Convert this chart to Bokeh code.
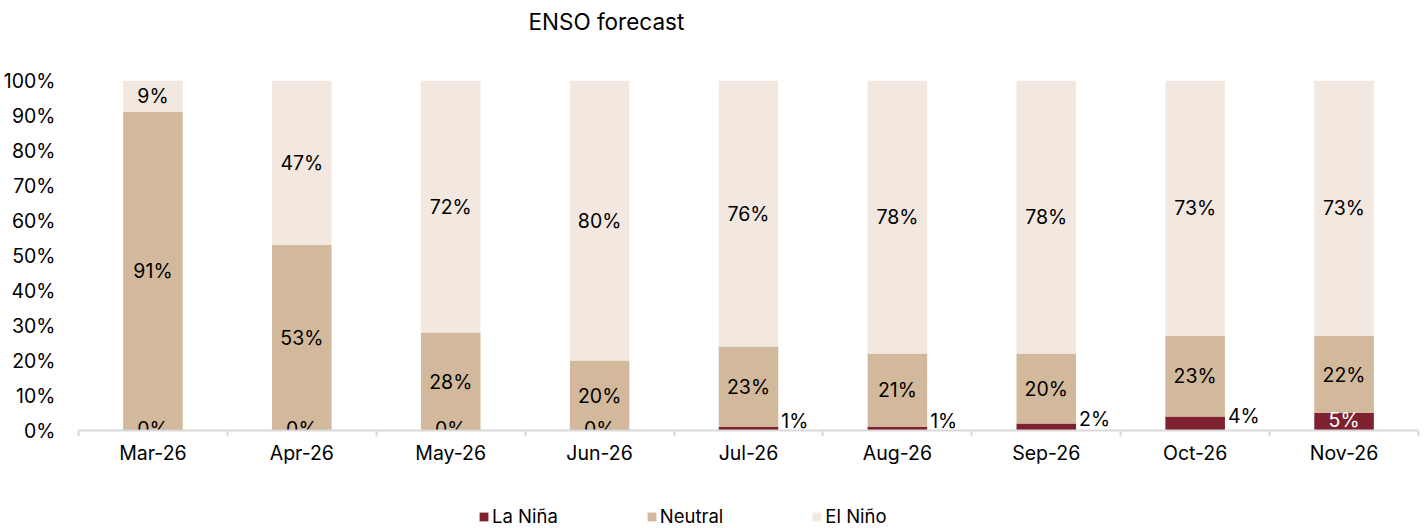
import numpy as np
from bokeh.plotting import figure
from bokeh.layouts import column
from bokeh.models import Range1d, FixedTicker, Legend, LegendItem, ColumnDataSource, LinearAxis
from bokeh.core.properties import value
from bokeh.embed import file_html
from bokeh.resources import INLINE

months = ["Mar-26", "Apr-26", "May-26", "Jun-26", "Jul-26", "Aug-26", "Sep-26", "Oct-26", "Nov-26"]
la_nina = [0, 0, 0, 0, 1, 1, 2, 4, 5]
neutral = [91, 53, 28, 20, 23, 21, 20, 23, 22]
el_nino = [9, 47, 72, 80, 76, 78, 78, 73, 73]
series_names = ["La Niña", "Neutral", "El Niño"]
y_ticks = [0, 10, 20, 30, 40, 50, 60, 70, 80, 90, 100]
title_text = "ENSO forecast"

colors = ["#7E2230", "#D2B99B", "#F3E8DF"]
FONT = "Inter"
LBL = "19.5px"

x = np.arange(len(months)) + 0.5
ln = np.array(la_nina, dtype=float)
nt = np.array(neutral, dtype=float)
en = np.array(el_nino, dtype=float)

src = ColumnDataSource(dict(x=x, ln=ln, nt=nt, en=en))

p = figure(frame_width=1340, frame_height=350, output_backend="svg", toolbar_location=None,
           x_range=Range1d(0, len(months)), y_range=Range1d(0, 100),
           min_border_left=68, min_border_right=2, min_border_top=80, min_border_bottom=40)
p.outline_line_color = None
p.xgrid.visible = False
p.ygrid.visible = False
p.background_fill_color = "white"
p.border_fill_color = "white"

renderers = p.vbar_stack(["ln", "nt", "en"], x="x", width=0.4, source=src,
                         fill_color=colors, line_color=None)

xa = p.below[0]
ya = p.left[0]

# invisible spacer axis between frame and title
spacer_top = LinearAxis(ticker=FixedTicker(ticks=[0]), axis_line_color=None,
                        major_tick_line_color=None, minor_tick_line_color=None,
                        major_tick_out=46, major_tick_in=0, minor_tick_out=0, minor_tick_in=0,
                        major_label_standoff=0, major_label_text_font_size="0px",
                        major_label_overrides={0: ""})
p.add_layout(spacer_top, "above")

p.title.text = title_text
p.title.text_font = FONT
p.title.text_font_size = "22.5px"
p.title.text_font_style = "normal"
p.title.text_color = "#000000"
p.title.align = "left"
p.title.offset = 450
p.title.standoff = 0

# x axis
xa.ticker = FixedTicker(ticks=list(x), minor_ticks=list(np.arange(len(months) + 1)))
xa.major_label_overrides = {float(v): m for v, m in zip(x, months)}
xa.major_tick_line_color = None
xa.major_tick_out = 0
xa.major_tick_in = 0
xa.minor_tick_line_color = "#d9d9d9"
xa.minor_tick_line_width = 2
xa.minor_tick_out = 6
xa.minor_tick_in = 0
xa.axis_line_color = "#d9d9d9"
xa.axis_line_width = 2
xa.major_label_text_font = FONT
xa.major_label_text_font_size = LBL
xa.major_label_text_color = "#000000"
xa.major_label_standoff = 4

# y axis
ya.ticker = FixedTicker(ticks=y_ticks)
ya.major_label_overrides = {t: f"{t}%" for t in y_ticks}
ya.axis_line_color = None
ya.major_tick_line_color = None
ya.minor_tick_line_color = None
ya.major_label_text_font = FONT
ya.major_label_text_font_size = LBL
ya.major_label_text_color = "#000000"
ya.major_label_standoff = 17

# data labels
txt = dict(text_font=value(FONT), text_font_size=LBL, text_baseline="middle")
p.text(x=x, y=ln + nt + en / 2, text=[f"{v:g}%" for v in en], text_align="center",
       text_color="#000000", **txt)
p.text(x=x, y=ln + nt / 2, text=[f"{v:g}%" for v in nt], text_align="center",
       text_color="#000000", **txt)

inside = (ln == 0) | (ln >= 5)
ix = x[inside]
p.text(x=ix, y=ln[inside] / 2, text=[f"{v:g}%" for v in ln[inside]], text_align="center",
       text_color=["#FFFFFF" if v > 0 else "#000000" for v in ln[inside]], y_offset=-2, **txt)
ox = x[~inside] + 0.2
p.text(x=ox, y=ln[~inside] / 2, text=[f"{v:g}%" for v in ln[~inside]], text_align="left",
       text_color="#000000", x_offset=3, y_offset=-8, **txt)

# legend in a separate strip below the chart (its bars lie outside its visible ranges)
lf = figure(width=1412, height=58, output_backend="svg", toolbar_location=None,
            x_range=Range1d(100, 101), y_range=Range1d(500, 501),
            x_axis_location=None, y_axis_location=None,
            min_border_left=0, min_border_right=0, min_border_top=0, min_border_bottom=0)
lf.outline_line_color = None
lf.xgrid.visible = False
lf.ygrid.visible = False
lf.border_fill_color = "white"
leg_r = lf.vbar_stack(["ln", "nt", "en"], x="x", width=0.0001, source=src,
                      fill_color=colors, line_color=None)

legend = Legend(items=[LegendItem(label=n, renderers=[r]) for n, r in zip(series_names, leg_r)],
                orientation="horizontal", location=(400, 1))
legend.label_text_font = FONT
legend.label_text_font_size = "18.5px"
legend.label_text_color = "#000000"
legend.glyph_width = 11
legend.glyph_height = 11
legend.label_standoff = 3
legend.spacing = 88
legend.padding = 0
legend.margin = 0
legend.border_line_color = None
legend.background_fill_alpha = 0
lf.add_layout(legend, "center")

layout = column(p, lf, spacing=0)
open("out.html", "w").write(file_html(layout, INLINE))
